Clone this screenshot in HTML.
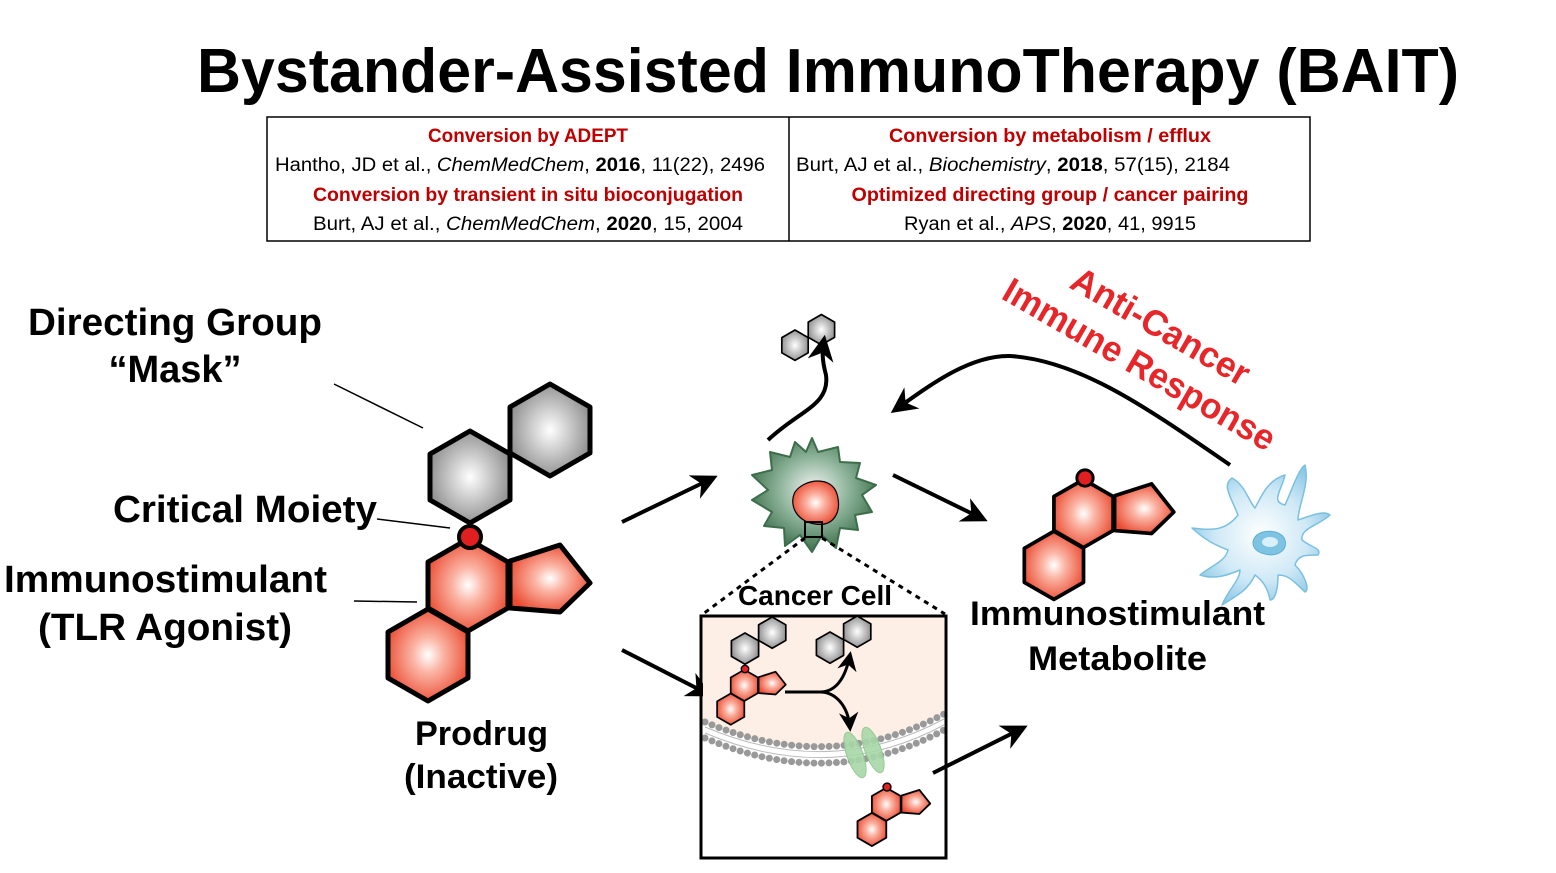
<!DOCTYPE html>
<html><head><meta charset="utf-8"><style>
html,body{margin:0;padding:0;background:#fff;}
svg{display:block;}
text{font-family:"Liberation Sans",sans-serif;}
</style></head><body>
<svg width="1556" height="873" viewBox="0 0 1556 873" xmlns="http://www.w3.org/2000/svg">
<defs>
<radialGradient id="rg" cx="50%" cy="50%" r="55%"><stop offset="0" stop-color="#fff"/><stop offset="0.35" stop-color="#fbb4a4"/><stop offset="1" stop-color="#ea4a30"/></radialGradient>
<radialGradient id="gg" cx="50%" cy="50%" r="55%"><stop offset="0" stop-color="#fff"/><stop offset="0.4" stop-color="#d0d0d0"/><stop offset="1" stop-color="#8a8a8a"/></radialGradient>
<radialGradient id="cg" cx="50%" cy="45%" r="55%"><stop offset="0" stop-color="#f4f4f4"/><stop offset="0.5" stop-color="#8fb59c"/><stop offset="1" stop-color="#3d6e4b"/></radialGradient>
<radialGradient id="bg" cx="50%" cy="50%" r="55%"><stop offset="0" stop-color="#ffffff"/><stop offset="0.6" stop-color="#cfe9f6"/><stop offset="1" stop-color="#8cc8e6"/></radialGradient>
<marker id="ah" viewBox="0 0 10 10" refX="8" refY="5" markerWidth="6.5" markerHeight="6.5" orient="auto"><path d="M0,0 L10,5 L0,10 L3,5z" fill="#000"/></marker>
<g id="hexR"><polygon points="0,-46 40,-23 40,23 0,46 -40,23 -40,-23" fill="url(#rg)" stroke="#000" stroke-width="5" stroke-linejoin="round"/></g>
<g id="hexG"><polygon points="0,-46 40,-23 40,23 0,46 -40,23 -40,-23" fill="url(#gg)" stroke="#000" stroke-width="5" stroke-linejoin="round"/></g>
<g id="red">
<use href="#hexR" x="-2" y="48"/>
<use href="#hexR" x="-42" y="118"/>
<polygon points="40,24 90,8 120,46 90,75 40,71" fill="url(#rg)" stroke="#000" stroke-width="5" stroke-linejoin="round"/>
<circle cx="0" cy="0" r="11" fill="#e02020" stroke="#000" stroke-width="4"/>
</g>
<g id="gray">
<use href="#hexG" x="0" y="-60"/>
<use href="#hexG" x="80" y="-107"/>
</g>
</defs>

<text x="828" y="92" text-anchor="middle" font-size="62" font-weight="bold" textLength="1262" lengthAdjust="spacingAndGlyphs">Bystander-Assisted ImmunoTherapy (BAIT)</text>

<rect x="267" y="117" width="1043" height="124" fill="none" stroke="#000" stroke-width="1.5"/>
<line x1="789" y1="117" x2="789" y2="241" stroke="#000" stroke-width="1.5"/>
<g font-size="19" text-anchor="middle">
<text x="528" y="142" fill="#c00000" font-weight="bold" textLength="200" lengthAdjust="spacingAndGlyphs">Conversion by ADEPT</text>
<text x="520" y="171" textLength="490" lengthAdjust="spacingAndGlyphs">Hantho, JD et al., <tspan font-style="italic">ChemMedChem</tspan>, <tspan font-weight="bold">2016</tspan>, 11(22), 2496</text>
<text x="528" y="201" fill="#c00000" font-weight="bold" textLength="430" lengthAdjust="spacingAndGlyphs">Conversion by transient in situ bioconjugation</text>
<text x="528" y="230" textLength="430" lengthAdjust="spacingAndGlyphs">Burt, AJ et al., <tspan font-style="italic">ChemMedChem</tspan>,  <tspan font-weight="bold">2020</tspan>, 15, 2004</text>
<text x="1050" y="142" fill="#c00000" font-weight="bold" textLength="322" lengthAdjust="spacingAndGlyphs">Conversion by metabolism / efflux</text>
<text x="1013" y="171" textLength="434" lengthAdjust="spacingAndGlyphs">Burt, AJ et al., <tspan font-style="italic">Biochemistry</tspan>, <tspan font-weight="bold">2018</tspan>, 57(15), 2184</text>
<text x="1050" y="201" fill="#c00000" font-weight="bold" textLength="397" lengthAdjust="spacingAndGlyphs">Optimized directing group / cancer pairing</text>
<text x="1050" y="230" textLength="292" lengthAdjust="spacingAndGlyphs">Ryan et al., <tspan font-style="italic">APS</tspan>,  <tspan font-weight="bold">2020</tspan>, 41, 9915</text>
</g>

<g font-weight="bold" font-size="38">
<text x="28" y="335" textLength="294" lengthAdjust="spacingAndGlyphs">Directing Group</text>
<text x="175" y="382" text-anchor="middle">“Mask”</text>
<text x="113" y="522" textLength="264" lengthAdjust="spacingAndGlyphs">Critical Moiety</text>
<text x="4" y="592" textLength="323" lengthAdjust="spacingAndGlyphs">Immunostimulant</text>
<text x="38" y="640" textLength="254" lengthAdjust="spacingAndGlyphs">(TLR Agonist)</text>
<text x="415" y="745" font-size="34" textLength="133" lengthAdjust="spacingAndGlyphs">Prodrug</text>
<text x="404" y="788" font-size="34" textLength="154" lengthAdjust="spacingAndGlyphs">(Inactive)</text>
<text x="970" y="625" font-size="34" textLength="295" lengthAdjust="spacingAndGlyphs">Immunostimulant</text>
<text x="1028" y="670" font-size="34" textLength="179" lengthAdjust="spacingAndGlyphs">Metabolite</text>
</g>
<g stroke="#000" stroke-width="1.5">
<line x1="334" y1="384" x2="423" y2="428"/>
<line x1="377" y1="519" x2="450" y2="528"/>
<line x1="354" y1="601" x2="417" y2="602"/>
</g>

<use href="#gray" transform="translate(470,537)"/>
<use href="#red" transform="translate(470,537)"/>
<use href="#red" transform="translate(1085,478) scale(0.74)"/>
<use href="#gray" transform="translate(795,365) scale(0.33)"/>

<g stroke="#000" stroke-width="4" fill="none" marker-end="url(#ah)">
<line x1="622" y1="522" x2="713" y2="478"/>
<line x1="893" y1="475" x2="983" y2="519"/>
<line x1="622" y1="650" x2="708" y2="694"/>
<line x1="933" y1="773" x2="1023" y2="728"/>
<path d="M768,440 C800,410 830,405 826,375 C822,360 822,352 824,340"/>
<path d="M1230,465 C1150,410 1080,360 1010,356 C970,355 930,385 895,410"/>
</g>

<text transform="translate(1068,287) rotate(30)" font-size="36" font-weight="bold" fill="#e8262a" textLength="200" lengthAdjust="spacingAndGlyphs">Anti-Cancer</text>
<text transform="translate(1000,298) rotate(30)" font-size="36" font-weight="bold" fill="#e8262a" textLength="308" lengthAdjust="spacingAndGlyphs">Immune Response</text>

<path d="M812,438 L818,452 L838,447 L840,462 L860,463 L856,478 L876,485 L862,495 L872,512 L855,515 L858,530 L840,528 L836,548 L822,535 L812,552 L800,535 L785,546 L784,528 L764,526 L772,512 L752,500 L768,490 L752,475 L772,470 L770,452 L790,457 L795,442 L806,452z" fill="url(#cg)" stroke="#3d6e4b" stroke-width="2" stroke-linejoin="round"/>
<path d="M795,492 C805,478 832,476 837,494 C842,512 834,527 815,524 C798,522 788,506 795,492z" fill="url(#rg)" stroke="#000" stroke-width="1.2"/>
<rect x="805" y="522" width="17" height="15" fill="none" stroke="#000" stroke-width="2"/>
<g stroke="#000" stroke-width="3" stroke-dasharray="5 5">
<line x1="805" y1="538" x2="703" y2="614"/>
<line x1="822" y1="538" x2="945" y2="614"/>
</g>
<text x="815" y="605" text-anchor="middle" font-size="28" font-weight="bold">Cancer Cell</text>

<path d="M703,616 L944,616 L944,715 Q830,775 703,723z" fill="#fdeee6"/>
<g fill="none" stroke="#999" stroke-linecap="round" stroke-dasharray="0 7.5" stroke-width="7">
<path d="M705,722 Q830,775 944,714"/>
<path d="M705,738 Q830,792 944,730"/>
</g>
<g fill="none" stroke="#bbb" stroke-width="1">
<path d="M705,727 Q830,780 944,719"/>
<path d="M705,733 Q830,786 944,725"/>
</g>
<g fill="#a8d8a8" stroke="#8cc48c" stroke-width="1" opacity="0.9">
<ellipse cx="855" cy="755" rx="8" ry="24" transform="rotate(-20 855 755)"/>
<ellipse cx="873" cy="750" rx="8" ry="24" transform="rotate(-20 873 750)"/>
</g>
<rect x="701" y="616" width="245" height="242" fill="none" stroke="#000" stroke-width="3"/>
<use href="#gray" transform="translate(745,669) scale(0.34)"/>
<use href="#red" transform="translate(745,669) scale(0.34)"/>
<use href="#gray" transform="translate(830,668) scale(0.34)"/>
<use href="#red" transform="translate(887,787) scale(0.36)"/>
<g stroke="#000" stroke-width="3" fill="none" marker-end="url(#ah)">
<path d="M785,692 L820,692 C835,692 845,680 850,655"/>
<path d="M820,692 C835,692 848,705 850,728"/>
</g>

<g fill="url(#bg)" stroke="#7cc0e0" stroke-width="1.5" stroke-linejoin="round">
<path d="M1238,515 C1230,495 1222,485 1232,478 C1245,485 1248,500 1255,508 C1262,495 1268,480 1285,475 C1282,490 1270,502 1285,505 C1292,490 1298,470 1305,465 C1310,485 1298,505 1298,520 C1312,515 1325,510 1330,515 C1320,525 1300,528 1302,540 C1312,548 1322,548 1318,555 C1305,555 1298,555 1295,565 C1305,575 1310,590 1305,592 C1295,583 1290,575 1278,575 C1278,590 1275,600 1270,600 C1268,588 1262,580 1255,575 C1248,590 1238,595 1222,605 C1228,590 1240,580 1240,570 C1228,575 1215,580 1200,575 C1212,565 1225,562 1228,550 C1215,545 1205,540 1192,528 C1210,530 1225,532 1238,515z"/>
</g>
<path d="M1255,537 C1262,528 1282,530 1285,540 C1288,552 1275,557 1265,554 C1255,552 1250,545 1255,537z" fill="#7fc3e3" stroke="#5aaed5" stroke-width="1"/>
<ellipse cx="1270" cy="542" rx="8" ry="5" fill="#d8f0fa"/>
</svg>
</body></html>
